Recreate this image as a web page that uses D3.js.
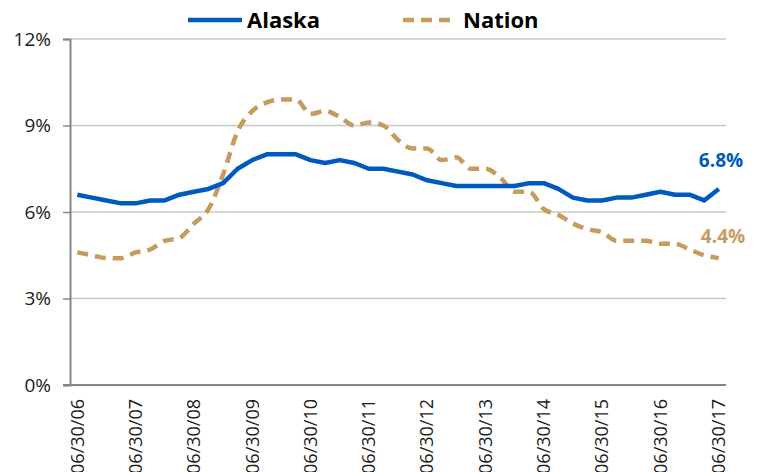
<!DOCTYPE html>
<html>
<head>
<meta charset="utf-8">
<script src="https://cdn.jsdelivr.net/npm/d3@7"></script>
<style>
  body { margin: 0; background: #fff; }
  text { font-family: "Open Sans", "Noto Sans", sans-serif; }
</style>
</head>
<body>
<div id="chart"></div>
<script>
// quarterly end dates, 06/30/06 .. 06/30/17
var quarters = d3.range(45).map(function(i) {
  var m = [6, 9, 12, 3][i % 4];
  var y = 2006 + Math.floor((i + 2) / 4);
  var d = (m == 6 || m == 9) ? 30 : 31;
  return d3.timeFormat("%m/%d/%y")(new Date(y, m - 1, d));
});

var tickLabels = ["06/30/06", "06/30/07", "06/30/08", "06/30/09", "06/30/10", "06/30/11",
                  "06/30/12", "06/30/13", "06/30/14", "06/30/15", "06/30/16", "06/30/17"];

var alaska = [6.6, 6.5, 6.4, 6.3, 6.3, 6.4, 6.4, 6.6, 6.7, 6.8,
              7.0, 7.5, 7.8, 8.0, 8.0, 8.0, 7.8, 7.7, 7.8, 7.7,
              7.5, 7.5, 7.4, 7.3, 7.1, 7.0, 6.9, 6.9, 6.9, 6.9,
              6.9, 7.0, 7.0, 6.8, 6.5, 6.4, 6.4, 6.5, 6.5, 6.6,
              6.7, 6.6, 6.6, 6.4, 6.8];

var nation = [4.6, 4.5, 4.4, 4.4, 4.6, 4.7, 5.0, 5.1, 5.6, 6.1,
              7.3, 8.8, 9.5, 9.8, 9.9, 9.9, 9.4, 9.5, 9.3, 9.0,
              9.1, 9.0, 8.5, 8.2, 8.2, 7.8, 7.9, 7.5, 7.5, 7.2,
              6.7, 6.7, 6.1, 5.9, 5.6, 5.4, 5.3, 5.0, 5.0, 5.0,
              4.9, 4.9, 4.7, 4.5, 4.4];

var yTicks = [0, 3, 6, 9, 12];

var blue = "#0059bf";
var tan = "#c69c5e";

var svg = d3.select("#chart").append("svg")
  .attr("width", 757)
  .attr("height", 472);

var x = d3.scalePoint()
  .domain(quarters)
  .range([70, 726])
  .padding(0.5);

var y = d3.scaleLinear()
  .domain([0, 12])
  .range([385, 39]);

// gridlines
svg.append("g")
  .selectAll("line")
  .data(yTicks.slice(1))
  .enter()
  .append("line")
    .attr("x1", 70)
    .attr("x2", 726)
    .attr("y1", function(d) { return y(d); })
    .attr("y2", function(d) { return y(d); })
    .attr("stroke", "#c8c8c8")
    .attr("stroke-width", 1.5);

// y axis
var yAxis = svg.append("g")
  .attr("transform", "translate(70,0)")
  .call(d3.axisLeft(y).tickValues(yTicks).tickSize(7).tickPadding(12)
    .tickFormat(function(d) { return d + "%"; }));
yAxis.select(".domain").attr("stroke", "#868686").attr("stroke-width", 2);
yAxis.selectAll(".tick line").attr("stroke", "#868686").attr("stroke-width", 1.5);
yAxis.selectAll(".tick text")
  .attr("font-size", 19)
  .attr("fill", "#1a1a1a")
  .style("font-family", "'Open Sans', sans-serif");

// x axis
svg.append("line")
  .attr("x1", 63)
  .attr("x2", 726)
  .attr("y1", y(0))
  .attr("y2", y(0))
  .attr("stroke", "#868686")
  .attr("stroke-width", 2);

svg.append("g")
  .selectAll("text")
  .data(tickLabels)
  .enter()
  .append("text")
    .attr("transform", function(d) {
      return "translate(" + x(d) + ",399) rotate(-90)";
    })
    .attr("text-anchor", "end")
    .attr("dy", "0.35em")
    .attr("font-size", 18)
    .attr("fill", "#1a1a1a")
    .text(function(d) { return d; });

// lines
var line = d3.line()
  .x(function(d, i) { return x(quarters[i]); })
  .y(function(d) { return y(d); });

svg.append("path")
  .datum(nation)
  .attr("d", line.curve(d3.curveMonotoneX))
  .attr("fill", "none")
  .attr("stroke", tan)
  .attr("stroke-width", 4.5)
  .attr("stroke-dasharray", "11,7");

svg.append("path")
  .datum(alaska)
  .attr("d", line.curve(d3.curveLinear))
  .attr("fill", "none")
  .attr("stroke", blue)
  .attr("stroke-width", 4.5)
  .attr("stroke-linejoin", "round");

// end labels
svg.append("text")
  .attr("x", 721)
  .attr("y", 167)
  .attr("text-anchor", "middle")
  .attr("font-size", 19)
  .attr("font-weight", "bold")
  .attr("fill", blue)
  .text(alaska[alaska.length - 1].toFixed(1) + "%");

svg.append("text")
  .attr("x", 723)
  .attr("y", 243)
  .attr("text-anchor", "middle")
  .attr("font-size", 19)
  .attr("font-weight", "bold")
  .attr("fill", tan)
  .text(nation[nation.length - 1].toFixed(1) + "%");

// legend
var legend = svg.append("g");
legend.append("line")
  .attr("x1", 188).attr("x2", 242)
  .attr("y1", 20).attr("y2", 20)
  .attr("stroke", blue)
  .attr("stroke-width", 4.5);
legend.append("text")
  .attr("x", 247).attr("y", 28)
  .attr("font-size", 22)
  .attr("font-weight", "bold")
  .attr("fill", "#000")
  .text("Alaska");
legend.append("line")
  .attr("x1", 403).attr("x2", 452)
  .attr("y1", 20).attr("y2", 20)
  .attr("stroke", tan)
  .attr("stroke-width", 4.5)
  .attr("stroke-dasharray", "11,7");
legend.append("text")
  .attr("x", 463).attr("y", 28)
  .attr("font-size", 22)
  .attr("font-weight", "bold")
  .attr("fill", "#000")
  .text("Nation");
</script>
</body>
</html>
